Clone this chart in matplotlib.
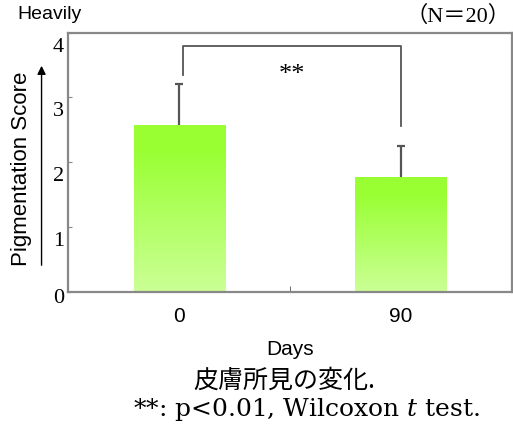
import numpy as np
import matplotlib.pyplot as plt
from matplotlib.patches import FancyArrowPatch
from matplotlib.colors import LinearSegmentedColormap
from matplotlib.transforms import ScaledTranslation

days = ["0", "90"]
scores = [2.57, 1.77]
sd = [0.63, 0.48]
yticks = [0, 1, 2, 3, 4]

fig = plt.figure(figsize=(5.13, 4.26), dpi=100)
ax = fig.add_axes([0.1326, 0.3157, 0.8654, 0.608])

x = np.arange(len(days))
bars = ax.bar(x, scores, width=0.41, color="none", edgecolor="none", zorder=2)
cmap = LinearSegmentedColormap.from_list("g", [(0.0, "#cbff96"), (0.85, "#99ff33"), (1.0, "#99ff33")])
grad = np.linspace(0, 1, 256).reshape(-1, 1)
for b in bars:
    im = ax.imshow(grad, cmap=cmap, origin="lower", aspect="auto", zorder=2,
                   extent=[b.get_x(), b.get_x() + b.get_width(), 0, b.get_height()])
    im.set_clip_path(b)
eb = ax.errorbar(x, scores, yerr=[[0, 0], sd], fmt="none", ecolor="#555555",
                 elinewidth=1.6, capsize=3, capthick=1.6, zorder=3)
eb[1][0].set_visible(False)  # no lower cap

ax.set_xlim(-0.5, 1.5)
ax.set_ylim(0, 4)

# significance bracket
ax.plot([0.02, 0.02, 1.0, 1.0], [3.34, 3.79, 3.79, 2.56], color="#555555", lw=1.3, zorder=3)
ax.text(0.51, 3.35, "**", ha="center", va="center", fontsize=19, family="Liberation Serif")

for s in ax.spines.values():
    s.set_color("#888888")
    s.set_linewidth(1.6)

ax.set_yticks(yticks)
ax.set_yticklabels([str(t) for t in yticks], family="Liberation Serif", fontsize=16)
ax.tick_params(axis="y", direction="in", length=3, color="#888888", pad=3)
for i, lab in enumerate(ax.get_yticklabels()):
    dy = -4 if i == 0 else -12
    lab.set_transform(lab.get_transform() + ScaledTranslation(0, dy / 100, fig.dpi_scale_trans))

ax.set_xticks(x)
ax.set_xticklabels(days, family="Liberation Sans", fontsize=15)
ax.tick_params(axis="x", length=0, pad=11)
ax.set_xticks([0.5], minor=True)
ax.tick_params(axis="x", which="minor", direction="in", length=4, color="#555555")

ax.set_xlabel("Days", family="Liberation Sans", fontsize=15, labelpad=10)

fig.text(0.041, 1 - 169 / 426, "Pigmentation Score", rotation=90, ha="center", va="center",
         family="Liberation Sans", fontsize=16)
fig.patches.append(FancyArrowPatch(
    (0.081, 1 - 268 / 426), (0.081, 1 - 63 / 426), transform=fig.transFigure,
    arrowstyle="-|>,head_length=5,head_width=2.5", color="black", lw=1.0))

fig.text(0.033, 0.965, "Heavily", family="Liberation Sans", fontsize=14, va="center")
fig.text(0.995, 0.962, "（N＝20）", family=["Liberation Serif", "Noto Sans CJK JP"],
         fontsize=16, ha="right", va="center")

fig.text(0.555, 0.106, "皮膚所見の変化.", family=["Noto Sans CJK JP", "DejaVu Sans"],
         fontsize=18, ha="center", va="center")
fig.text(0.598, 0.038, r"**: p<0.01, Wilcoxon $t$ test.", family="DejaVu Serif",
         fontsize=18, ha="center", va="center", math_fontfamily="dejavuserif")

fig.savefig("out.png", dpi=100)
